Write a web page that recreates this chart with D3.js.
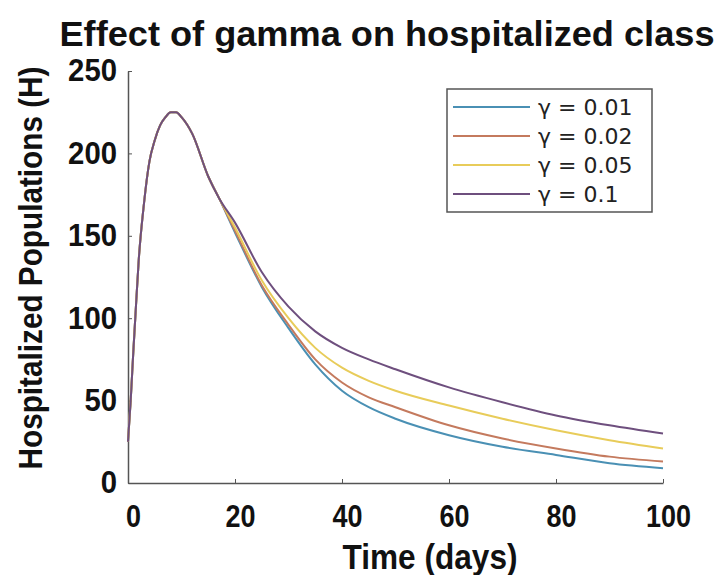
<!DOCTYPE html>
<html>
<head>
<meta charset="utf-8">
<script src="https://cdn.jsdelivr.net/npm/d3@7"></script>
<style>
  body { margin: 0; background: #fff; }
  svg text { font-family: "Liberation Sans", Arial, sans-serif; }
</style>
</head>
<body>
<div id="chart"></div>
<script>
// Time points (days) and hospitalized population for each gamma
const days = [0, 0.5, 1, 1.5, 2, 3, 4, 5, 6, 7, 8, 9, 10, 12, 15, 17, 20, 25, 30, 35, 40, 45, 50, 60, 70, 80, 90, 100];
const rise = [25, 50, 80, 108, 135, 170, 195, 208, 217, 222, 225, 225, 222, 212, 186, 173];
const h001 = rise.concat([152, 119, 94, 72, 56, 46, 39, 29, 22, 17, 12, 9]);
const h002 = rise.concat([153, 120, 96, 75, 61, 52, 46, 35, 27, 21, 16, 13]);
const h005 = rise.concat([155, 123, 100, 82, 70, 62, 56, 47, 39, 32, 26, 21]);
const h01 = rise.concat([158, 128, 107, 92, 82, 75, 69, 58, 49, 41, 35, 30]);

const seriesNames = ["\u03b3 = 0.01", "\u03b3 = 0.02", "\u03b3 = 0.05", "\u03b3 = 0.1"];
const seriesValues = [h001, h002, h005, h01];
const colors = ["#4a90b4", "#c47a5e", "#e8cc5a", "#6e4f7e"];

const xTicks = [0, 20, 40, 60, 80, 100];
const yTicks = [0, 50, 100, 150, 200, 250];

const W = 725, H = 575;
const margin = { top: 71, right: 62, bottom: 92, left: 128 };
const width = W - margin.left - margin.right,
      height = H - margin.top - margin.bottom;

const svg = d3.select("#chart").append("svg")
    .attr("width", W)
    .attr("height", H);

const g = svg.append("g")
    .attr("transform", `translate(${margin.left},${margin.top})`);

const x = d3.scaleLinear().domain([0, 100]).range([0, width]);
const y = d3.scaleLinear().domain([0, 250]).range([height, 0]);

// Axes (ticks pointing inward, MATLAB style)
const xAxis = g.append("g")
    .attr("transform", `translate(0,${height})`)
    .call(d3.axisBottom(x).tickValues(xTicks).tickSize(-4).tickPadding(18).tickSizeOuter(0));
const yAxis = g.append("g")
    .call(d3.axisLeft(y).tickValues(yTicks).tickSize(-4).tickPadding(11).tickSizeOuter(0));

[xAxis, yAxis].forEach(a => {
  a.select(".domain").attr("stroke", "#555").attr("stroke-width", 1.5);
  a.selectAll(".tick line").attr("stroke", "#555");
  a.selectAll(".tick text")
      .attr("fill", "#111")
      .attr("font-size", 31)
      .attr("font-weight", "bold")
      .attr("lengthAdjust", "spacingAndGlyphs");
});
xAxis.selectAll(".tick text")
    .attr("dy", "0.85em")
    .attr("dx", 5)
    .attr("textLength", d => String(d).length * 15);
yAxis.selectAll(".tick text")
    .attr("textLength", d => String(d).length * 16.3);

// Lines
const line = d3.line()
    .x((d, i) => x(days[i]))
    .y(d => y(d))
    .curve(d3.curveMonotoneX);

g.selectAll(".series")
    .data(seriesValues)
    .enter().append("path")
    .attr("class", "series")
    .attr("fill", "none")
    .attr("stroke", (d, i) => colors[i])
    .attr("stroke-width", 2)
    .attr("d", line);

// Title
svg.append("text")
    .attr("x", 387)
    .attr("y", 46)
    .attr("text-anchor", "middle")
    .attr("font-size", 35)
    .attr("font-weight", "bold")
    .attr("fill", "#111")
    .attr("textLength", 655)
    .attr("lengthAdjust", "spacingAndGlyphs")
    .text("Effect of gamma on hospitalized class");

// Axis titles
svg.append("text")
    .attr("x", 430)
    .attr("y", 569)
    .attr("text-anchor", "middle")
    .attr("font-size", 35)
    .attr("font-weight", "bold")
    .attr("fill", "#111")
    .attr("textLength", 175)
    .attr("lengthAdjust", "spacingAndGlyphs")
    .text("Time (days)");

svg.append("text")
    .attr("transform", "translate(42,268) rotate(-90)")
    .attr("text-anchor", "middle")
    .attr("font-size", 33)
    .attr("font-weight", "bold")
    .attr("fill", "#111")
    .attr("textLength", 403)
    .attr("lengthAdjust", "spacingAndGlyphs")
    .text("Hospitalized Populations (H)");

// Legend
const legend = svg.append("g").attr("transform", "translate(447,89)");
legend.append("rect")
    .attr("width", 205)
    .attr("height", 123)
    .attr("fill", "#fff")
    .attr("stroke", "#555")
    .attr("stroke-width", 1.5);

const items = legend.selectAll(".legend")
    .data(seriesNames)
    .enter().append("g")
    .attr("class", "legend")
    .attr("transform", (d, i) => `translate(0,${18 + i * 29})`);

items.append("line")
    .attr("x1", 6).attr("x2", 83)
    .attr("stroke", (d, i) => colors[i])
    .attr("stroke-width", 2);

items.append("text")
    .attr("x", 91)
    .attr("dy", "0.35em")
    .attr("font-size", 22)
    .attr("fill", "#222")
    .style("font-family", "'DejaVu Sans', sans-serif")
    .text(d => d);
</script>
</body>
</html>
